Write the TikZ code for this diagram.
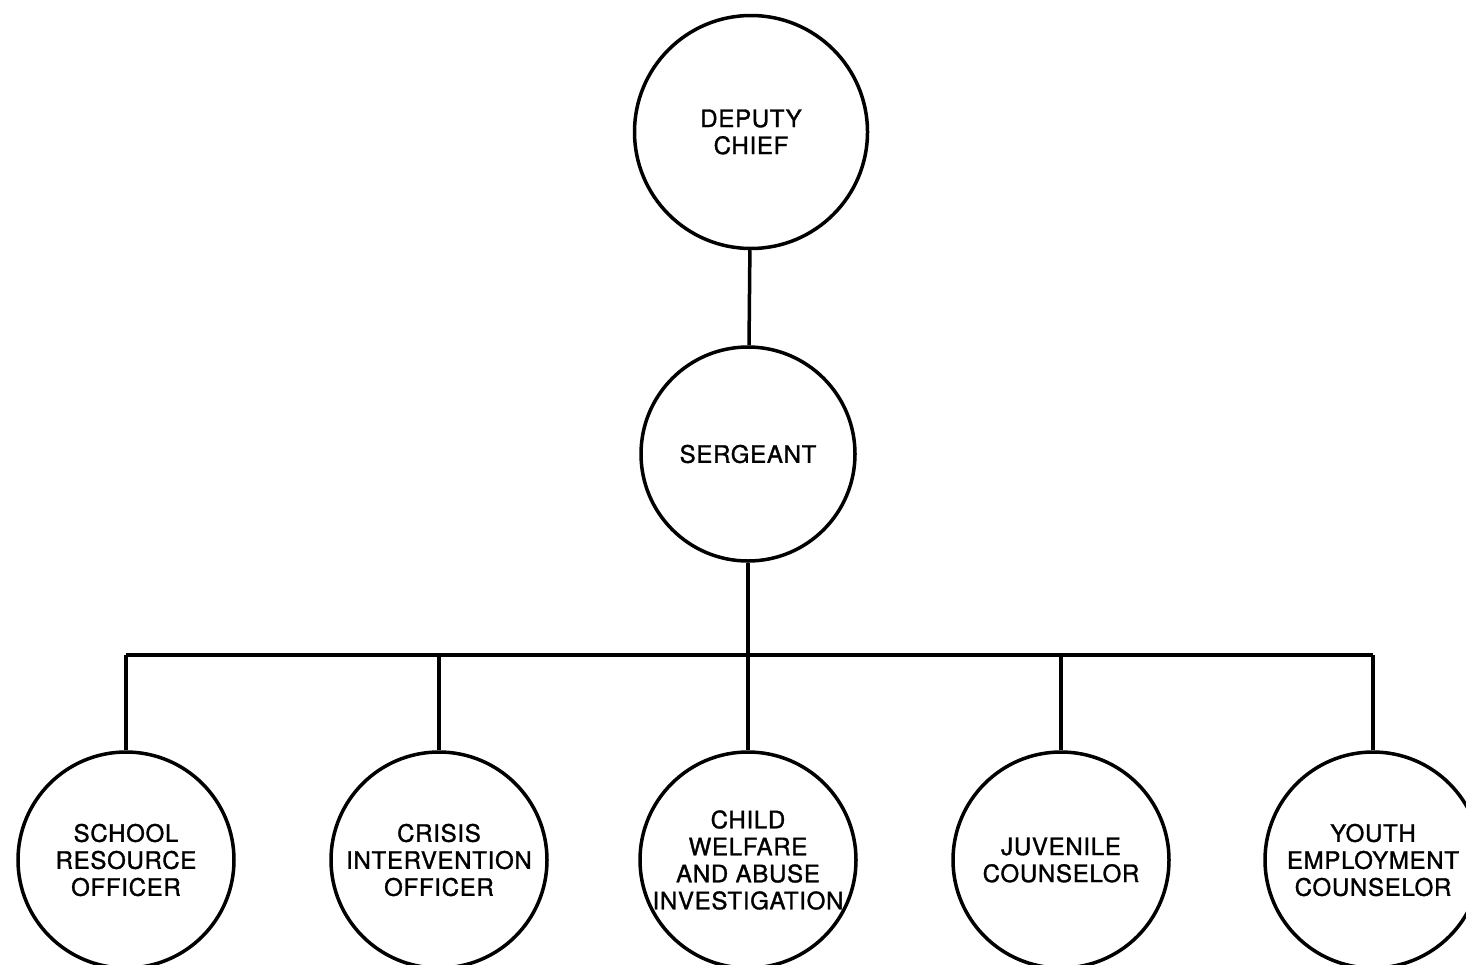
\documentclass[tikz,border=0pt]{standalone}
\usepackage{fontspec}
\newfontfamily\orgfont[FakeBold=1.3,LetterSpace=3]{TeX Gyre Heros}
\usepackage{tikz}

\begin{document}
\begin{tikzpicture}[x=1pt,y=-1pt,line width=3.5pt,
  post/.style={draw,circle,inner sep=0pt,align=center,
    font=\orgfont\fontsize{24}{27}\selectfont}]
  \useasboundingbox (0,0) rectangle (1466,964);
  \clip (0,0) rectangle (1466,964);
  \node[post,minimum size=233pt] (chief) at (751,132) {DEPUTY\\CHIEF};
  \node[post,minimum size=214pt] (sgt) at (748,454) {SERGEANT};
  \coordinate (bar) at (748,655);
  % units
  \node[post,minimum size=216pt] (school) at (126,860) {SCHOOL\\RESOURCE\\OFFICER};
  \node[post,minimum size=216pt] (crisis) at (439,860) {CRISIS\\INTERVENTION\\OFFICER};
  \node[post,minimum size=216pt] (child) at (748,860) {CHILD\\WELFARE\\AND ABUSE\\INVESTIGATION};
  \node[post,minimum size=216pt] (juv) at (1061,860) {JUVENILE\\COUNSELOR};
  \node[post,minimum size=216pt] (youth) at (1373,860) {YOUTH\\EMPLOYMENT\\COUNSELOR};
  \draw (chief) -- (sgt);
  \draw (sgt.south) -- (bar);
  \draw (bar -| school.north) -- (bar -| youth.north);
  \foreach \u in {school,crisis,child,juv,youth}{\draw (bar -| \u.north) -- (\u.north);}
\end{tikzpicture}
\end{document}
